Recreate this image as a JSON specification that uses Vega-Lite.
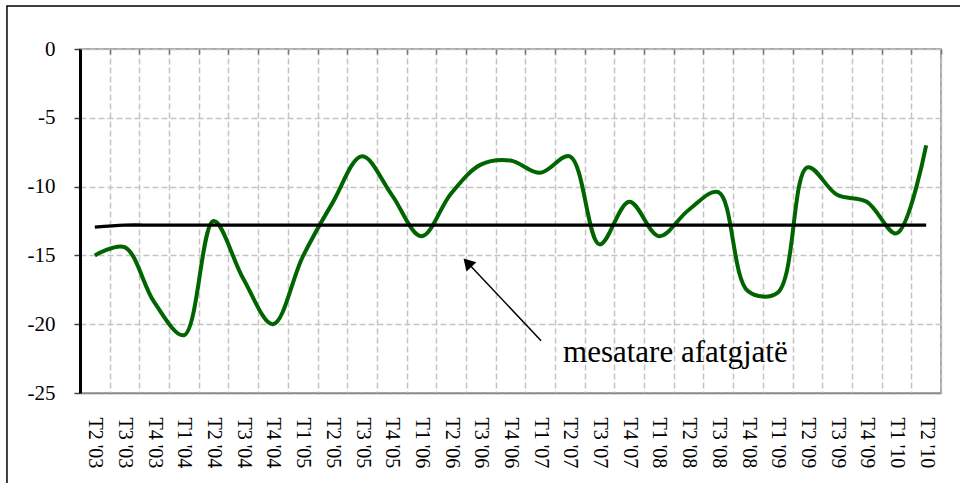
{
  "$schema": "https://vega.github.io/schema/vega-lite/v6.json",
  "width": 861,
  "height": 344,
  "autosize": "none",
  "padding": {"left": 80, "top": 49, "right": 19, "bottom": 90},
  "background": "white",
  "config": {
    "font": "Liberation Serif",
    "view": {"stroke": "#8c8c8c", "strokeWidth": 1.5},
    "axisY": {
      "domainColor": "black", "domainWidth": 3, "tickColor": "#444", "tickWidth": 1.5, "tickSize": 6,
      "labelPadding": 19, "labelFont": "Liberation Serif", "labelFontSize": 21, "labelColor": "black",
      "gridColor": "#c4c4c4", "gridDash": [6, 3], "gridWidth": 1.5, "title": null
    },
    "axisX": {
      "domainColor": "#8c8c8c", "domainWidth": 1.5, "ticks": false, "labelAngle": 90, "labelAlign": "left",
      "labelBaseline": "middle", "labelPadding": 24, "labelFont": "Liberation Serif", "labelFontSize": 20,
      "labelColor": "black", "labelOverlap": false, "gridColor": "#c4c4c4", "gridDash": [6, 3], "gridWidth": 1.5,
      "tickBand": "extent", "title": null
    }
  },
  "datasets": {
    "series": [
      {"q": "T2 '03", "value": -15.0, "avg": -12.95},
      {"q": "T3 '03", "value": -14.4, "avg": -12.8},
      {"q": "T4 '03", "value": -18.4, "avg": -12.8},
      {"q": "T1 '04", "value": -20.8, "avg": -12.8},
      {"q": "T2 '04", "value": -12.5, "avg": -12.8},
      {"q": "T3 '04", "value": -16.7, "avg": -12.8},
      {"q": "T4 '04", "value": -20.0, "avg": -12.8},
      {"q": "T1 '05", "value": -15.1, "avg": -12.8},
      {"q": "T2 '05", "value": -11.2, "avg": -12.8},
      {"q": "T3 '05", "value": -7.8, "avg": -12.8},
      {"q": "T4 '05", "value": -10.6, "avg": -12.8},
      {"q": "T1 '06", "value": -13.6, "avg": -12.8},
      {"q": "T2 '06", "value": -10.5, "avg": -12.8},
      {"q": "T3 '06", "value": -8.4, "avg": -12.8},
      {"q": "T4 '06", "value": -8.1, "avg": -12.8},
      {"q": "T1 '07", "value": -9.0, "avg": -12.8},
      {"q": "T2 '07", "value": -7.8, "avg": -12.8},
      {"q": "T3 '07", "value": -14.2, "avg": -12.8},
      {"q": "T4 '07", "value": -11.1, "avg": -12.8},
      {"q": "T1 '08", "value": -13.6, "avg": -12.8},
      {"q": "T2 '08", "value": -11.7, "avg": -12.8},
      {"q": "T3 '08", "value": -10.4, "avg": -12.8},
      {"q": "T4 '08", "value": -17.6, "avg": -12.8},
      {"q": "T1 '09", "value": -17.7, "avg": -12.8},
      {"q": "T2 '09", "value": -8.6, "avg": -12.8},
      {"q": "T3 '09", "value": -10.6, "avg": -12.8},
      {"q": "T4 '09", "value": -11.1, "avg": -12.8},
      {"q": "T1 '10", "value": -13.4, "avg": -12.8},
      {"q": "T2 '10", "value": -7.0, "avg": -12.8}
    ],
    "arrow": [{"ax": 15.53, "ay": -21.2, "ax2": 13.0, "ay2": -15.41}],
    "head": [{"ax": 13.095, "ay": -15.63}],
    "label": [{"ax": 16.27, "ay": -22.75, "text": "mesatare afatgjatë"}],
    "frame": [{"ax": -2.46, "ay": 3.125, "ax2": 31, "ay2": -33}]
  },
  "layer": [
    {
      "data": {"name": "series"},
      "mark": {"type": "line", "interpolate": "catmull-rom", "color": "#006400", "strokeWidth": 4},
      "encoding": {
        "x": {"field": "q", "type": "nominal", "sort": null, "bandPosition": 0.5,
              "scale": {"type": "band", "paddingInner": 0, "paddingOuter": 0},
              "axis": {"grid": true}},
        "y": {"field": "value", "type": "quantitative",
              "scale": {"domain": [-25, 0], "nice": false, "zero": false},
              "axis": {"values": [-25, -20, -15, -10, -5, 0], "grid": true, "labelExpr": "datum.value + ''"}}
      }
    },
    {
      "data": {"name": "series"},
      "mark": {"type": "line", "interpolate": "catmull-rom", "color": "black", "strokeWidth": 3.3},
      "encoding": {
        "x": {"field": "q", "type": "nominal", "sort": null, "bandPosition": 0.5,
              "scale": {"type": "band", "paddingInner": 0, "paddingOuter": 0},
              "axis": {"orient": "top", "labels": false, "domain": false, "grid": false, "ticks": true,
                       "tickSize": -5, "tickColor": "#777", "tickWidth": 1.5, "tickBand": "extent"}},
        "y": {"field": "avg", "type": "quantitative"}
      }
    },
    {
      "data": {"name": "arrow"},
      "mark": {"type": "rule", "color": "black", "strokeWidth": 1.5},
      "encoding": {
        "x": {"field": "ax", "type": "quantitative", "scale": {"domain": [0, 29], "nice": false, "zero": false}, "axis": null},
        "x2": {"field": "ax2"},
        "y": {"field": "ay", "type": "quantitative"},
        "y2": {"field": "ay2"}
      }
    },
    {
      "data": {"name": "head"},
      "mark": {"type": "point", "shape": "triangle", "filled": true, "color": "black", "opacity": 1, "size": 180, "angle": -43},
      "encoding": {
        "x": {"field": "ax", "type": "quantitative", "scale": {"domain": [0, 29], "nice": false, "zero": false}, "axis": null},
        "y": {"field": "ay", "type": "quantitative"}
      }
    },
    {
      "data": {"name": "label"},
      "mark": {"type": "text", "align": "left", "baseline": "alphabetic", "font": "Liberation Serif", "fontSize": 31, "color": "black"},
      "encoding": {
        "x": {"field": "ax", "type": "quantitative", "scale": {"domain": [0, 29], "nice": false, "zero": false}, "axis": null},
        "y": {"field": "ay", "type": "quantitative"},
        "text": {"field": "text"}
      }
    },
    {
      "data": {"name": "frame"},
      "mark": {"type": "rect", "fill": null, "fillOpacity": 0, "stroke": "black", "strokeWidth": 1.5},
      "encoding": {
        "x": {"field": "ax", "type": "quantitative", "scale": {"domain": [0, 29], "nice": false, "zero": false}, "axis": null},
        "x2": {"field": "ax2"},
        "y": {"field": "ay", "type": "quantitative"},
        "y2": {"field": "ay2"}
      }
    }
  ],
  "resolve": {"scale": {"x": "independent"}}
}
